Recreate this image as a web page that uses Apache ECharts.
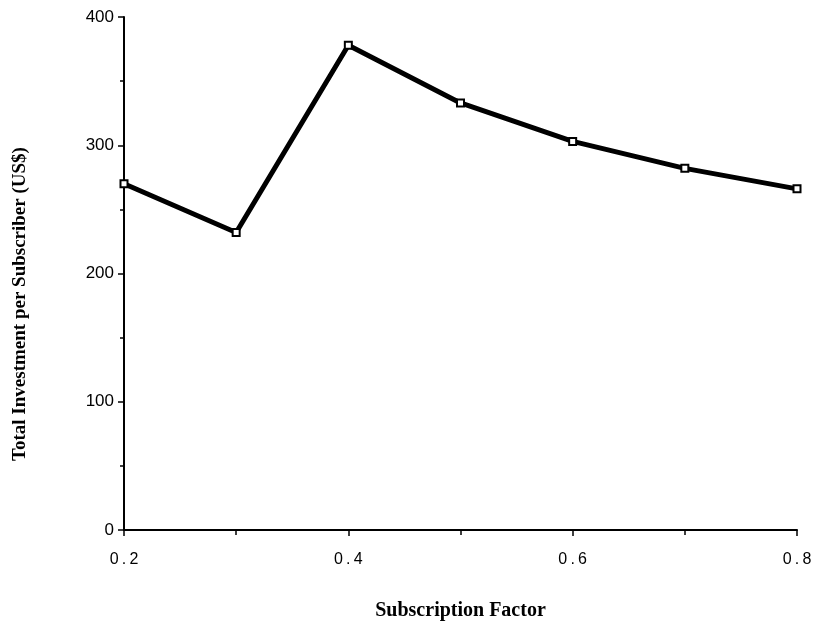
<!DOCTYPE html>
<html>
<head>
<meta charset="utf-8">
<script src="https://cdn.jsdelivr.net/npm/echarts@6/dist/echarts.min.js"></script>
<style>
  html, body { margin: 0; padding: 0; background: #fff; }
  #chart { width: 822px; height: 640px; }
</style>
</head>
<body>
<div id="chart"></div>
<script>
// subscription factor values on x
const subscriptionFactor = [0.2, 0.3, 0.4, 0.5, 0.6, 0.7, 0.8];
// total investment per subscriber (US$)
const investment = [270, 232, 378, 333, 303, 282, 266];

const xName = 'Subscription Factor';
const yName = 'Total Investment per Subscriber (US$)';

const myChart = echarts.init(document.getElementById('chart'));

const option = {
  backgroundColor: '#fff',
  animation: false,
  grid: {
    left: 124,
    right: 25,
    top: 17,
    bottom: 110
  },
  xAxis: {
    type: 'value',
    min: 0.2,
    max: 0.8,
    interval: 0.2,
    name: xName,
    nameLocation: 'middle',
    nameGap: 71,
    nameTextStyle: {
      fontFamily: 'Liberation Serif',
      fontWeight: 'bold',
      fontSize: 20,
      color: '#000'
    },
    axisLine: { lineStyle: { color: '#000', width: 2 } },
    axisTick: { show: true, length: 6, lineStyle: { color: '#000', width: 1.5 } },
    minorTick: { show: true, splitNumber: 2, length: 5, lineStyle: { color: '#000', width: 1.5 } },
    splitLine: { show: false },
    axisLabel: {
      margin: 22,
      fontFamily: 'Liberation Sans',
      fontSize: 16,
      color: '#000',
      // the scanned labels are spaced out, e.g. "0 . 2"
      formatter: v => v.toFixed(1).split('').join('\u2009')
    }
  },
  yAxis: {
    type: 'value',
    min: 0,
    max: 400,
    interval: 100,
    axisLine: { show: true, lineStyle: { color: '#000', width: 2 } },
    axisTick: { show: true, length: 6, lineStyle: { color: '#000', width: 1.5 } },
    minorTick: { show: true, splitNumber: 2, length: 4, lineStyle: { color: '#000', width: 1.5 } },
    splitLine: { show: false },
    axisLabel: {
      margin: 10,
      fontFamily: 'Liberation Sans',
      fontSize: 17,
      color: '#000'
    }
  },
  graphic: [
    {
      type: 'text',
      x: 20,
      y: 304,
      rotation: Math.PI / 2,
      style: {
        text: yName,
        fontFamily: 'Liberation Serif',
        fontWeight: 'bold',
        fontSize: 19,
        fill: '#000',
        align: 'center',
        verticalAlign: 'middle'
      }
    }
  ],
  series: [
    {
      type: 'line',
      data: subscriptionFactor.map((x, i) => [x, investment[i]]),
      lineStyle: { color: '#000', width: 5 },
      symbol: 'rect',
      symbolSize: 7,
      itemStyle: { color: '#fff', borderColor: '#000', borderWidth: 2 },
      z: 3
    }
  ]
};

myChart.setOption(option);
</script>
</body>
</html>
